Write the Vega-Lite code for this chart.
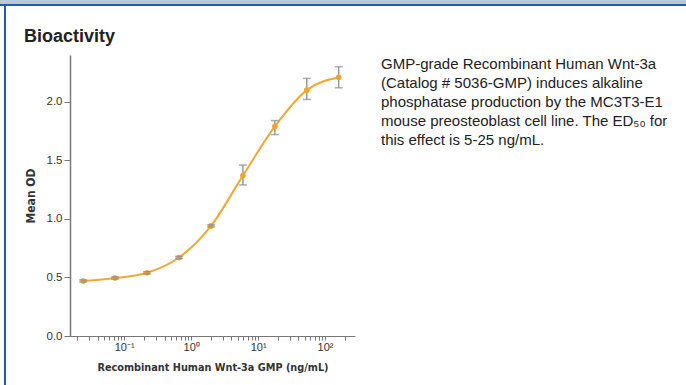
{
  "$schema": "https://vega.github.io/schema/vega-lite/v6.json",
  "padding": 0,
  "background": "white",
  "spacing": 0,
  "config": {"view": {"stroke": null}, "concat": {"spacing": 0}, "font": "Liberation Sans"},
  "datasets": {
    "empty": [],
    "dose": [
      {"conc": 0.0244, "od": 0.47, "lo": 0.461, "hi": 0.479},
      {"conc": 0.0732, "od": 0.495, "lo": 0.486, "hi": 0.504},
      {"conc": 0.22, "od": 0.54, "lo": 0.531, "hi": 0.549},
      {"conc": 0.66, "od": 0.67, "lo": 0.661, "hi": 0.679},
      {"conc": 1.98, "od": 0.94, "lo": 0.931, "hi": 0.949},
      {"conc": 5.93, "od": 1.37, "lo": 1.29, "hi": 1.46},
      {"conc": 17.8, "od": 1.79, "lo": 1.72, "hi": 1.84},
      {"conc": 53.4, "od": 2.1, "lo": 2.02, "hi": 2.2},
      {"conc": 160, "od": 2.21, "lo": 2.12, "hi": 2.3}
    ]
  },
  "vconcat": [
    {"width": 686, "height": 2, "view": {"fill": "#b3cbe6", "stroke": null}, "data": {"name": "empty"}, "mark": "point"},
    {"width": 686, "height": 2, "view": {"fill": "#c4c4c4", "stroke": null}, "data": {"name": "empty"}, "mark": "point"},
    {"width": 686, "height": 2, "view": {"fill": "#1f5ea8", "stroke": null}, "data": {"name": "empty"}, "mark": "point"},
    {
      "spacing": 0,
      "hconcat": [
        {"width": 4, "height": 379, "view": {"fill": "white", "stroke": null}, "data": {"name": "empty"}, "mark": "point"},
        {"width": 2, "height": 379, "view": {"fill": "#1f5ea8", "stroke": null}, "data": {"name": "empty"}, "mark": "point"},
        {"width": 18, "height": 379, "view": {"fill": "white", "stroke": null}, "data": {"name": "empty"}, "mark": "point"},
        {
          "spacing": 0,
          "vconcat": [
            {"width": 1, "height": 22, "view": {"fill": "white", "stroke": null}, "data": {"name": "empty"}, "mark": "point"},
            {
              "title": {"text": "Bioactivity", "anchor": "start", "font": "Liberation Sans", "fontSize": 18, "fontWeight": "bold", "color": "#222222", "offset": 9},
              "spacing": 26,
              "hconcat": [
                {
                  "width": 285,
                  "height": 281,
                  "data": {"name": "dose"},
                  "encoding": {
                    "x": {
                      "field": "conc", "type": "quantitative",
                      "scale": {"type": "log", "domain": [0.0155, 280], "nice": false},
                      "axis": {
                        "title": "Recombinant Human Wnt-3a GMP (ng/mL)",
                        "titleFont": "DejaVu Sans Condensed, Liberation Sans, sans-serif", "titleFontSize": 10.8, "titleFontWeight": "bold", "titleColor": "#333333", "titlePadding": 9,
                        "values": [0.02, 0.03, 0.04, 0.05, 0.06, 0.07, 0.08, 0.09, 0.1, 0.2, 0.3, 0.4, 0.5, 0.6, 0.7, 0.8, 0.9, 1, 2, 3, 4, 5, 6, 7, 8, 9, 10, 20, 30, 40, 50, 60, 70, 80, 90, 100, 200],
                        "labelExpr": "datum.value == 0.1 ? '10⁻¹' : datum.value == 1 ? '10⁰' : datum.value == 10 ? '10¹' : datum.value == 100 ? '10²' : ''",
                        "labelFont": "Liberation Sans", "labelFontSize": 11, "labelColor": "#333333", "labelOverlap": false, "labelFlush": false, "labelBound": false, "labelPadding": 1,
                        "tickSize": 4, "tickColor": "#777777", "domainColor": "#777777", "domainWidth": 1.2, "grid": false
                      }
                    },
                    "y": {
                      "field": "od", "type": "quantitative",
                      "scale": {"domain": [0, 2.4], "nice": false, "zero": true},
                      "axis": {
                        "title": "Mean OD",
                        "titleFont": "DejaVu Sans Condensed, Liberation Sans, sans-serif", "titleFontSize": 12, "titleFontWeight": "bold", "titleColor": "#333333", "titlePadding": 9,
                        "values": [0, 0.5, 1, 1.5, 2], "format": ".1f",
                        "labelFont": "Liberation Sans", "labelFontSize": 11.5, "labelColor": "#333333", "labelPadding": 2,
                        "tickSize": 6, "tickColor": "#777777", "domainColor": "#777777", "domainWidth": 1.5, "grid": false
                      }
                    }
                  },
                  "layer": [
                    {"mark": {"type": "line", "interpolate": "monotone", "color": "#f4a833", "strokeWidth": 2}},
                    {"mark": {"type": "rule", "color": "#8a8a8a", "strokeWidth": 1.3}, "encoding": {"y": {"field": "lo", "type": "quantitative"}, "y2": {"field": "hi"}}},
                    {"mark": {"type": "circle", "color": "#efa332", "opacity": 1, "size": 32}},
                    {"mark": {"type": "tick", "orient": "horizontal", "color": "#8a8a8a", "size": 8, "thickness": 1.5}, "encoding": {"y": {"field": "lo", "type": "quantitative"}}},
                    {"mark": {"type": "tick", "orient": "horizontal", "color": "#8a8a8a", "size": 8, "thickness": 1.5}, "encoding": {"y": {"field": "hi", "type": "quantitative"}}}
                  ]
                },
                {
                  "width": 290,
                  "height": 1,
                  "data": {"name": "empty"},
                  "mark": "point",
                  "title": {
                    "text": ["GMP-grade Recombinant Human Wnt-3a", "(Catalog # 5036-GMP) induces alkaline", "phosphatase production by the MC3T3-E1", "mouse preosteoblast cell line. The ED₅₀ for", "this effect is 5-25 ng/mL."],
                    "orient": "bottom", "anchor": "start", "font": "Liberation Sans", "fontSize": 15, "fontWeight": "normal", "color": "#222222", "lineHeight": 19, "offset": 1
                  }
                }
              ]
            }
          ]
        }
      ]
    }
  ]
}
